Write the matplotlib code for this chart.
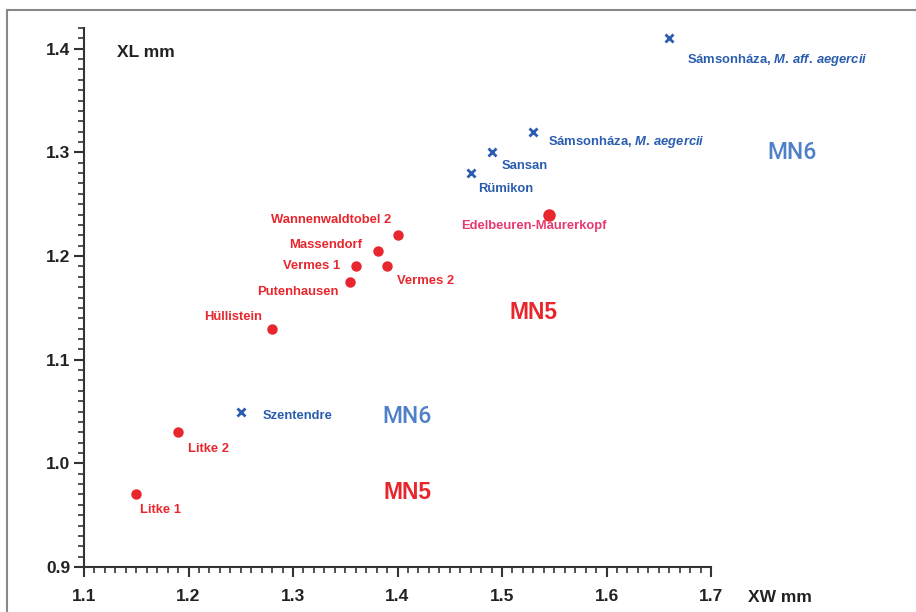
import matplotlib
matplotlib.use("Agg")
import matplotlib.pyplot as plt
from matplotlib.ticker import MultipleLocator
from matplotlib.lines import Line2D

plt.rcParams['font.family'] = ['Liberation Sans', 'DejaVu Sans']
plt.rcParams['mathtext.fontset'] = 'custom'
plt.rcParams['mathtext.rm'] = 'Liberation Sans:bold'
plt.rcParams['mathtext.bfit'] = 'Liberation Sans:italic:bold'
plt.rcParams['mathtext.it'] = 'Liberation Sans:italic:bold'

# MN5 sites (red dots)
red_names = ["Litke 1", "Litke 2", "Hüllistein", "Putenhausen", "Vermes 1",
             "Vermes 2", "Massendorf", "Wannenwaldtobel 2"]
red_xw = [1.15, 1.19, 1.28, 1.355, 1.36, 1.39, 1.381, 1.40]
red_xl = [0.97, 1.03, 1.13, 1.175, 1.19, 1.19, 1.205, 1.22]
red_offsets = [(4, -16, 'left'), (10, -17, 'left'), (-10, 12, 'right'),
               (-12, -10, 'right'), (-16, 0, 'right'), (10, -15, 'left'),
               (-16, 6, 'right'), (-6, 15, 'right')]

# Edelbeuren-Maurerkopf (pink label, larger dot)
pink_name = "Edelbeuren-Maurerkopf"
pink_xw = [1.545]
pink_xl = [1.24]

# MN6 sites (blue x)
blue_names = ["Szentendre", "Rümikon", "Sansan",
              r"Sámsonháza, $\mathit{M.\,aegercii}$",
              r"Sámsonháza, $\mathit{M.\,aff.\,aegercii}$"]
blue_xw = [1.25, 1.47, 1.49, 1.53, 1.66]
blue_xl = [1.05, 1.28, 1.30, 1.32, 1.41]
blue_offsets = [(22, -4), (7, -16), (10, -14), (15, -10), (18, -22)]

# zone labels
zone_text = ["MN6", "MN5", "MN6", "MN5"]
zone_xw = [1.778, 1.53, 1.409, 1.41]
zone_xl = [1.30, 1.146, 1.045, 0.972]

RED = "#e8262d"
PINK = "#e83a6e"
BLUE = "#2a5db0"
LBLUE = "#4f80c8"

fig = plt.figure(figsize=(9.16, 6.12), dpi=100)
ax = fig.add_axes([84/916, 45/612, (711-84)/916, (567-28)/612])

ax.plot(red_xw, red_xl, 'o', color=RED, ms=7.5, mec='none', clip_on=False)
ax.plot(pink_xw, pink_xl, 'o', color=RED, ms=9, mec='none', clip_on=False)
ax.plot(blue_xw, blue_xl, 'x', color=BLUE, ms=6, mew=2, clip_on=False)

LFS = 9.4
for n, x, y, (dx, dy, ha) in zip(red_names, red_xw, red_xl, red_offsets):
    ax.annotate(n, (x, y), xytext=(dx * 0.72, dy * 0.72), textcoords='offset points',
                ha=ha, va='center', color=RED, fontsize=LFS, fontweight='bold')
ax.annotate(pink_name, (pink_xw[0], pink_xl[0]), xytext=(-15 * 0.72, -11 * 0.72),
            textcoords='offset points', ha='center', va='center', color=PINK,
            fontsize=LFS, fontweight='bold')
for n, x, y, (dx, dy) in zip(blue_names, blue_xw, blue_xl, blue_offsets):
    ax.annotate(n, (x, y), xytext=(dx * 0.72, dy * 0.72), textcoords='offset points',
                ha='left', va='center', color=BLUE, fontsize=LFS, fontweight='bold',
                annotation_clip=False)

for t, x, y in zip(zone_text, zone_xw, zone_xl):
    if t == "MN6":
        ax.text(x, y, t, color=LBLUE, fontsize=16.5, ha='center', va='center',
                family=['Roboto', 'Liberation Sans'], fontweight='medium',
                clip_on=False)
    else:
        ax.text(x, y, t, color=RED, fontsize=16.5, fontweight='bold', ha='center',
                va='center', clip_on=False)

ax.set_xlim(1.1, 1.7)
ax.set_ylim(0.9, 1.42)
ax.spines['top'].set_visible(False)
ax.spines['right'].set_visible(False)
for s in ['left', 'bottom']:
    ax.spines[s].set_linewidth(1.5)
    ax.spines[s].set_color('#333333')
ax.xaxis.set_minor_locator(MultipleLocator(0.01))
ax.yaxis.set_minor_locator(MultipleLocator(0.01))
ax.set_xticks([1.1, 1.2, 1.3, 1.4, 1.5, 1.6, 1.7])
ax.set_xticklabels(["1.1", "1.2", "1.3", "1.4", "1.5", "1.6", "1.7"])
ax.set_yticks([0.9, 1.0, 1.1, 1.2, 1.3, 1.4])
ax.set_yticklabels(["0.9", "1.0", "1.1", "1.2", "1.3", "1.4"])
ax.tick_params(which='major', direction='out', length=7, width=1.5, color='#333333',
               labelsize=12.5)
ax.tick_params(axis='y', which='major', pad=3)
ax.tick_params(axis='x', which='major', pad=9)
ax.tick_params(which='minor', direction='out', length=4, width=1.2, color='#333333')
for lab in ax.get_xticklabels() + ax.get_yticklabels():
    lab.set_fontweight('bold')
    lab.set_color('#222222')

ax.text(0.053, 0.955, "XL mm", transform=ax.transAxes, fontsize=12.5,
        fontweight='bold', color='#222222', ha='left', va='center')
fig.text(748/916, 1 - 597/612, "XW mm", fontsize=12.5, fontweight='bold',
         color='#222222', ha='left', va='center')

# frame lines (top and left)
fig.add_artist(Line2D([7/916, 1.0], [1 - 10/612, 1 - 10/612], transform=fig.transFigure,
                      color='#888888', lw=1.5))
fig.add_artist(Line2D([7/916, 7/916], [0, 1 - 10/612], transform=fig.transFigure,
                      color='#888888', lw=1.5))

fig.savefig("out.png", dpi=100)
